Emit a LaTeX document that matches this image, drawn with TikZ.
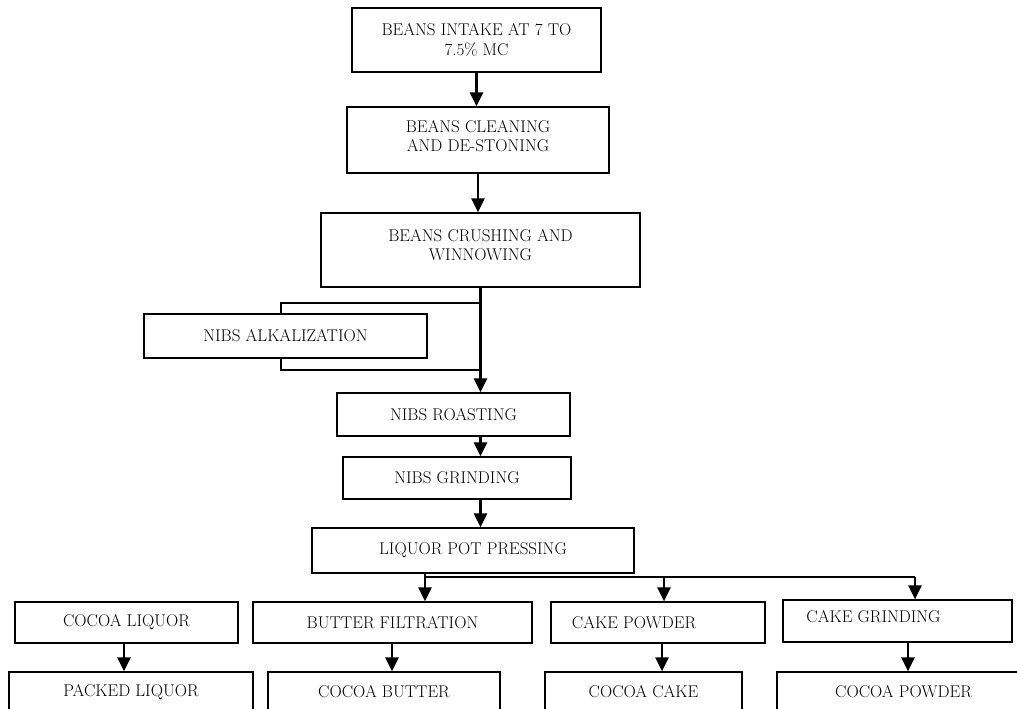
\documentclass[tikz,border=0pt]{standalone}
\usetikzlibrary{arrows.meta,calc}
\begin{document}
\begin{tikzpicture}[x=1pt,y=-1pt,
  font=\fontsize{17}{19.5}\selectfont,
  box/.style={draw=black,line width=1.2pt,fill=white,align=center,inner sep=0pt,
    minimum width=#1,text=black},
  txt/.style={align=center,inner sep=0pt,text=black},
  flow/.style={line width=2.6pt,-{Triangle[length=14pt,width=13pt]}},
  plain/.style={line width=2.6pt}]
\useasboundingbox (0,0) rectangle (1017,709);
\clip (0,0) rectangle (1017,709);
% boxes
\node[box=249pt,minimum height=64pt] (b1) at (476.5,40) {BEANS INTAKE AT 7 TO\\7.5\% MC};
\node[box=262pt,minimum height=66pt,label={[txt,yshift=4pt]center:BEANS CLEANING\\AND DE-STONING}] (b2) at (478,140) {};
\node[box=319pt,minimum height=74pt,label={[txt,yshift=5pt]center:BEANS CRUSHING AND\\WINNOWING}] (b3) at (480.5,250) {};
\node[box=233pt,minimum height=43pt] (roast) at (453.5,414.5) {NIBS ROASTING};
\node[box=228pt,minimum height=42pt] (grind) at (457,478) {NIBS GRINDING};
\node[box=322pt,minimum height=45pt] (press) at (473,550.5) {LIQUOR POT PRESSING};
\node[box=223pt,minimum height=41pt] (liq) at (126.5,622.5) {COCOA LIQUOR};
\node[box=279pt,minimum height=41pt] (butt) at (392.5,622.5) {BUTTER FILTRATION};
\node[box=214pt,minimum height=41pt,label={[txt,xshift=-24pt]center:CAKE POWDER}] (cpow) at (658,622.5) {};
\node[box=229pt,minimum height=42pt,label={[txt,xshift=-24pt,yshift=4pt]center:CAKE GRINDING}] (cgr) at (897.5,621) {};
\node[box=244pt,minimum height=40pt] (packed) at (131,692) {PACKED LIQUOR};
\node[box=232pt,minimum height=40pt] (cbut) at (384,692) {COCOA BUTTER};
\node[box=197pt,minimum height=40pt] (ccake) at (643.5,692) {COCOA CAKE};
\node[box=253pt,minimum height=40pt] (cpowd) at (903.5,692) {COCOA POWDER};
% connectors at top
\draw[flow] (b1.south) -- (b1.south |- b2.north);
\draw[flow] (b2.south) -- (b2.south |- b3.north);
% alkalization bypass
\coordinate (bt) at (281,303);
\coordinate (bb) at (281,370);
\draw[plain] (b3.south |- bt) -- (bt) -- (bb) -- (b3.south |- bb);
\node[box=283pt,minimum height=44pt] (alk) at (285.5,336) {NIBS ALKALIZATION};
\draw[flow] (b3.south) -- (b3.south |- roast.north);
\draw[flow] (b3.south |- roast.south) -- (b3.south |- grind.north);
\draw[flow] (b3.south |- grind.south) -- (b3.south |- press.north);
% branching
\coordinate (s1) at (425,577);
\coordinate (s2) at (664,577);
\coordinate (s3) at (915,577);
\draw[flow] (s1 |- press.south) -- (s1 |- butt.north);
\draw[plain] (s1) -- (s3);
\draw[flow] (s2) -- (s2 |- cpow.north);
\draw[flow] (s3) -- (s3 |- cgr.north);
% lower arrows
\draw[flow] (124,643) coordinate (l1) -- (l1 |- packed.north);
\draw[flow] (392,643) coordinate (l2) -- (l2 |- cbut.north);
\draw[flow] (662,643) coordinate (l3) -- (l3 |- ccake.north);
\draw[flow] (908,642) coordinate (l4) -- (l4 |- cpowd.north);
\end{tikzpicture}
\end{document}
